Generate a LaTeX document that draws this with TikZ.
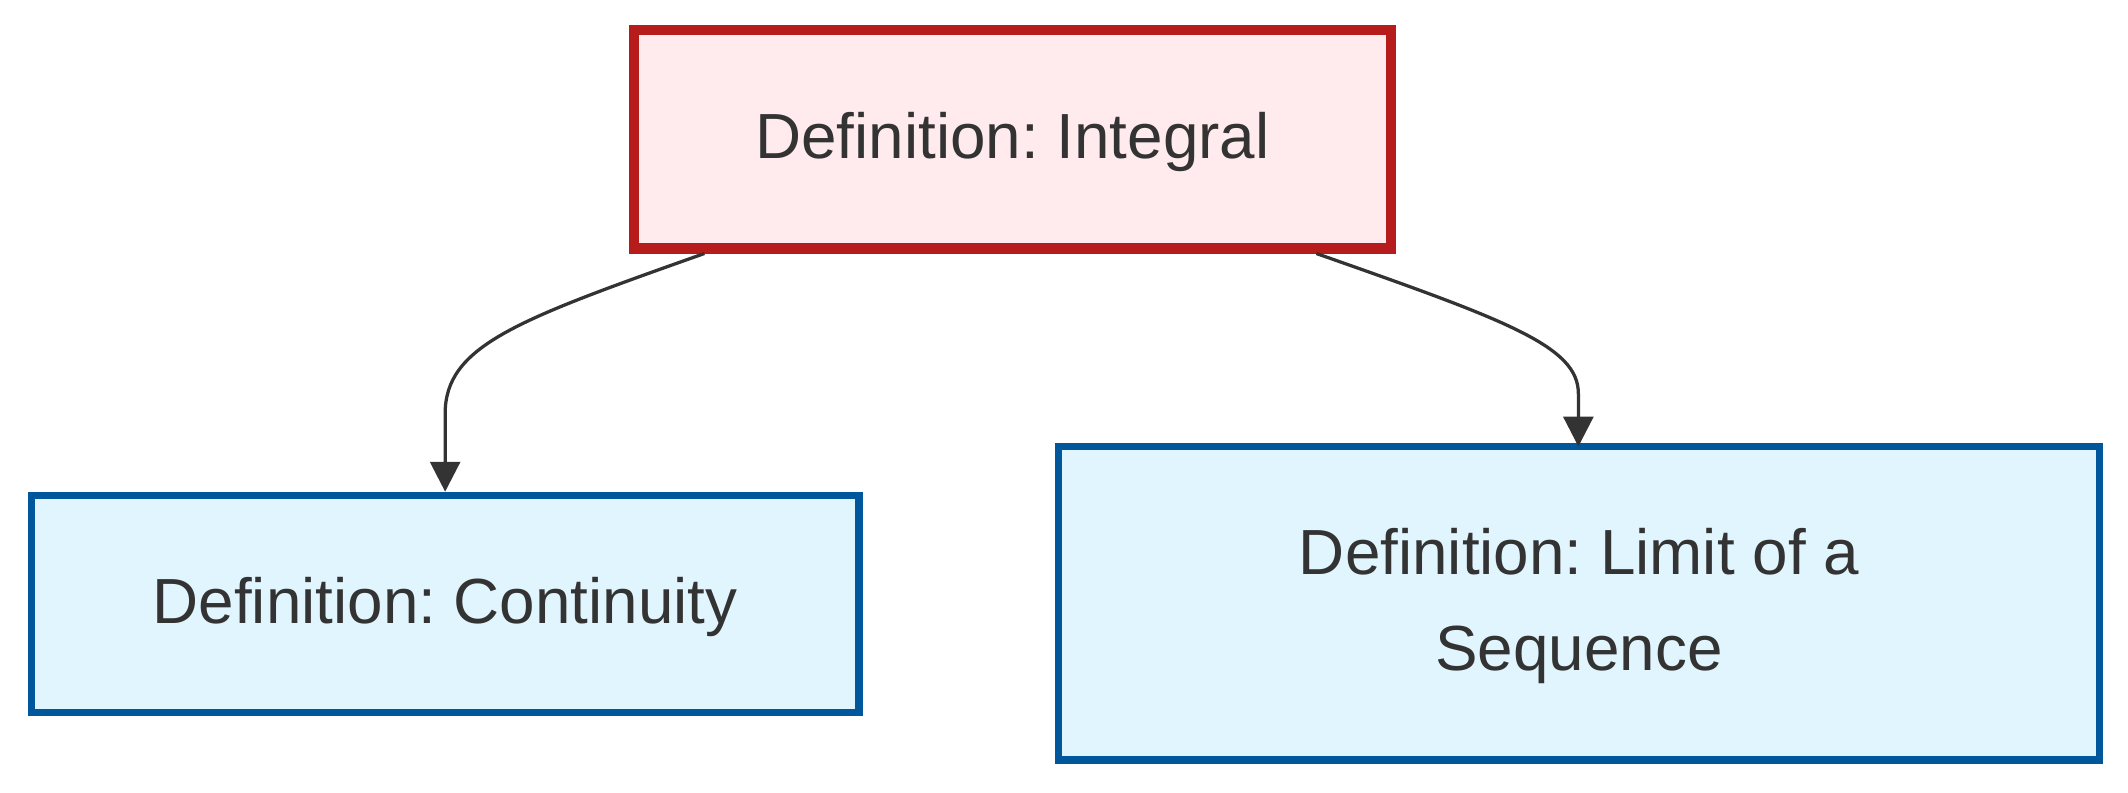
\documentclass[tikz,border=0pt]{standalone}
\usepackage{fontspec}
\setmainfont{Liberation Sans}
\usetikzlibrary{arrows.meta}
\definecolor{redborder}{HTML}{B71C1C}
\definecolor{redfill}{HTML}{FFEBEE}
\definecolor{blueborder}{HTML}{01579B}
\definecolor{bluefill}{HTML}{E1F5FE}
\definecolor{txt}{HTML}{333333}
\newcommand{\lowtext}[1]{\raisebox{-2.2pt}{\begin{tabular}{@{}c@{}}#1\end{tabular}}}
\begin{document}
\frenchspacing
\begin{tikzpicture}[x={(0.5pt,0)},y={(0,-0.5pt)},
  box/.style={rectangle, inner sep=0pt, align=center, text=txt,
    font=\fontsize{23.5pt}{35.5pt}\selectfont\frenchspacing},
  redbox/.style={box, draw=redborder, fill=redfill, line width=3.8pt},
  bluebox/.style={box, draw=blueborder, fill=bluefill, line width=2.7pt},
  link/.style={draw=txt, line width=1.2pt, -{Triangle[length=11pt,width=11pt]}}]
\useasboundingbox[fill=white] (0,0) rectangle (1568,584);
\node[redbox, minimum width=279pt, minimum height=80.5pt] (top) at (746,102.5) {\lowtext{Definition: Integral}};
\node[bluebox, minimum width=305pt, minimum height=80pt] (cont) at (328,445) {\lowtext{Definition: Continuity}};
\node[bluebox, minimum width=383.5pt, minimum height=115.5pt] (lim) at (1163.5,444.5) {\lowtext{Definition: Limit of a\\Sequence}};
\draw[link] ([xshift=-113.5pt]top.south) .. controls (380,236) and (328,255) .. (328,305) -- (cont.north);
\draw[link] ([xshift=112pt]top.south) .. controls (1110,236) and (1163,255) .. (1163,290) -- (1163,329);
\end{tikzpicture}
\end{document}
